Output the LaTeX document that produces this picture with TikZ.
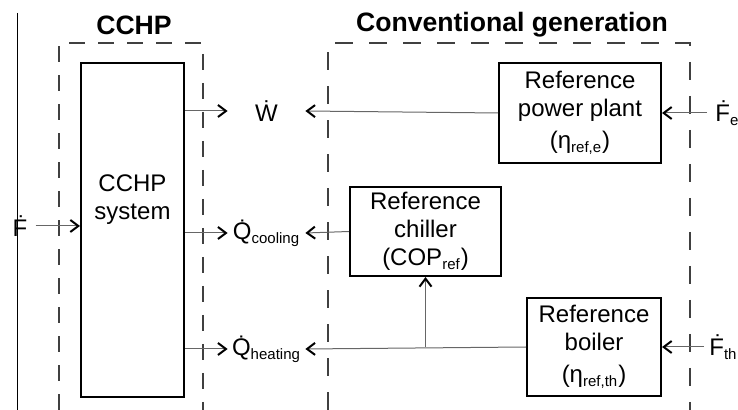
\documentclass[tikz,border=0pt]{standalone}
\usepackage{fontspec}
\setmainfont{Liberation Sans}
\usetikzlibrary{arrows.meta,positioning}

\newcommand{\klein}[1]{\textsubscript{\fontsize{7.5}{8}\selectfont #1}}

\begin{document}
\begin{tikzpicture}[x=0.5pt, y=-0.5pt,
  >={Straight Barb[length=4pt,width=6pt,line width=1pt,color=black]},
  font=\fontsize{12}{14}\selectfont,
  blok/.style={draw, line width=1pt, align=center, inner sep=0pt},
  kader/.style={draw=black!75, line width=0.8pt, dash pattern=on 8pt off 6.5pt},
  stroom/.style={->, draw=black!60, line width=0.5pt},
  kop/.style={font=\fontsize{13.3}{15}\selectfont\bfseries},
  grootheid/.style={font=\fontsize{12}{14}\selectfont, inner sep=0pt}]

  \useasboundingbox (0,0) rectangle (738,410);

  % Titels
  \node[kop] (tcchp) at (134,25) {CCHP};
  \node[kop] (tconv) at (512,25) {Conventional generation};

  % Systeemgrenzen
  \draw[line width=0.5pt] (17,13) -- (17,410);
  \draw[kader] (59,410) -- (59,43) -- (203,43) -- (203,410);
  \draw[kader, dash pattern=on 9pt off 8pt] (328,410) -- (328,43) -- (690,43) -- (690,410);

  % CCHP systeem
  \node[blok, minimum width=51.5pt, minimum height=167pt] (sys) at (132.5,230) {};
  \node[align=center] (systxt) at (132.5,200) {CCHP\\system};

  % Referentie installaties
  \node[blok, minimum width=81pt, minimum height=50pt] (plant) at (580,113)
    {Reference\\power plant\\[2pt](η\klein{ref,e})};
  \node[blok, minimum width=75.5pt, minimum height=44.5pt] (chiller) at (425.5,231.5)
    {Reference\\chiller\\(COP\klein{ref})};
  \node[blok, minimum width=67pt, minimum height=49pt] (boiler) at (594,347)
    {Reference\\boiler\\[2pt](η\klein{ref,th})};

  % Grootheden
  \node[grootheid, minimum width=38.5pt] (W)  at (266.5,111) {\.W};
  \node[grootheid, minimum width=38.5pt] (Qc) at (266.5,233) {\.Q\klein{cooling}};
  \node[grootheid, minimum width=38.5pt] (Qh) at (266.5,349) {\.Q\klein{heating}};
  \node[grootheid, inner sep=4pt] (F) at (20,226) {\.F};
  \node[grootheid, inner sep=4pt, anchor=west] (Fe)  at (707,113) {\.F\klein{e}};
  \node[grootheid, inner sep=2.5pt, anchor=west] (Fth) at (704,347) {\.F\klein{th}};

  % Stromen CCHP
  \draw[stroom] (F.east) -- (sys.west |- F.east);
  \draw[stroom] (sys.east |- W.west)  -- (W.west);
  \draw[stroom] (sys.east |- Qc.west) -- (Qc.west);
  \draw[stroom] (sys.east |- Qh.west) -- (Qh.west);

  % Stromen conventioneel
  \draw[stroom] (plant.west)   -- (W.east);
  \draw[stroom] (chiller.west) -- (Qc.east);
  \draw[stroom] (boiler.west)  -- (Qh.east);
  \coordinate (split) at (chiller.south |- boiler.west);
  \draw[stroom] (split) -- (chiller.south);
  \draw[stroom] (Fe.west)  -- (plant.east);
  \draw[stroom] (Fth.west) -- (boiler.east);

\end{tikzpicture}
\end{document}
